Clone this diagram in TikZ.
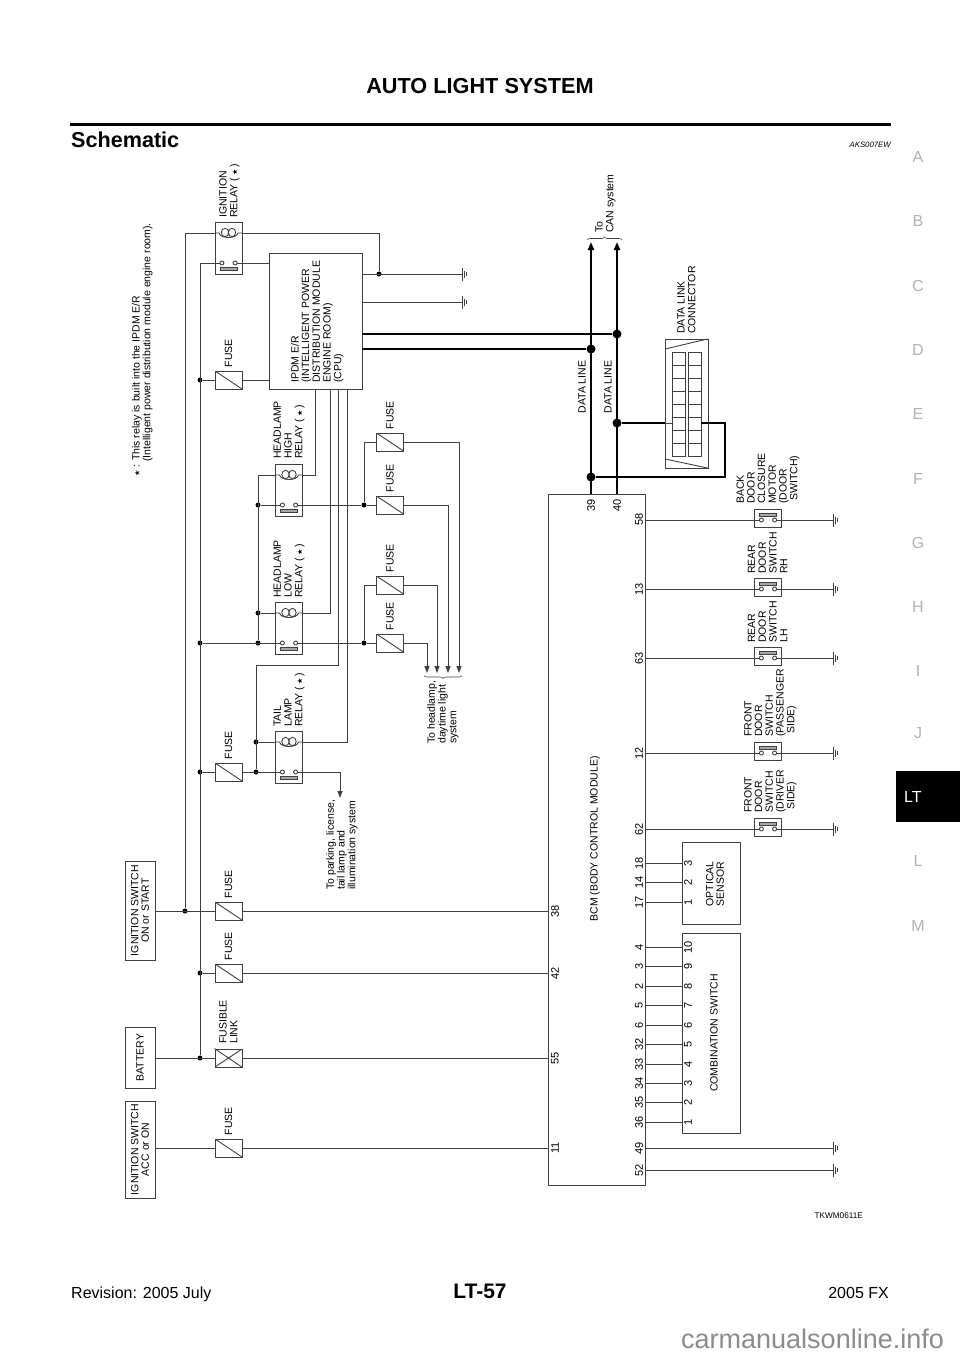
\documentclass[tikz,border=0pt]{standalone}
\usepackage{fontspec}
\setmainfont{Liberation Sans}
\newfontfamily\symfont{DejaVu Sans}
\usetikzlibrary{arrows.meta,decorations.pathreplacing}
\newcommand{\starsym}{{\symfont\fontsize{7}{7}\selectfont ★}}
\newcommand{\rstar}{(\,\starsym\,)}
\tikzset{
  wire/.style={line width=.9pt,black!75},
  dataw/.style={line width=2.2pt,black},
  box/.style={draw=black!75,line width=.9pt,fill=white,inner sep=0pt},
  fusebox/.style={box,minimum width=27pt,minimum height=18pt,
    path picture={\draw[wire] (path picture bounding box.north west)--(path picture bounding box.south east);}},
  linkbox/.style={fusebox,
    path picture={\draw[wire] (path picture bounding box.south west)--(path picture bounding box.north east);}},
  relaybox/.style={box,minimum width=27pt,minimum height=52pt},
  swbox/.style={box,minimum width=27pt,minimum height=18pt},
  rotlabel/.style={rotate=90,anchor=south west,inner sep=0pt,align=left,
    font=\fontsize{10.5}{10.7}\selectfont,execute at end node=\vphantom{(}},
  rotcenter/.style={rotate=90,inner sep=0pt,align=center,font=\fontsize{10.5}{10.7}\selectfont},
  pinlabel/.style={rotcenter,font=\fontsize{11}{11}\selectfont},
  tabletter/.style={inner sep=0pt,black!30,font=\fontsize{16}{16}\selectfont},
  dot/.style={circle,fill=black,inner sep=0pt,minimum size=5pt},
  bigdot/.style={circle,fill=black,inner sep=0pt,minimum size=9pt},
  tip/.style={-{Triangle[length=7pt,width=5pt]}},
  pics/gnd/.style={code={
    \draw[wire] (0,-6.5)--(0,6.5) (2.4,-3.5)--(2.4,3.5) (4.7,-2)--(4.7,2);}},
  pics/coil/.style={code={
    \draw[wire] (-13.5,0)--(-9.5,0) .. controls (-8,6) and (8,6) .. (9.5,0)--(13.5,0);
    \draw[wire] (-3.5,-.5) ellipse (3.7 and 4.2) (3.5,-.5) ellipse (3.7 and 4.2);}},
  pics/contact/.style={code={
    \draw[wire] (-6.6,0) circle (2) (6.6,0) circle (2);}},
}
\begin{document}
\begin{tikzpicture}[x=1pt,y=-1pt]
  \useasboundingbox (0,0) rectangle (960,1358);
  \fill[white] (0,0) rectangle (960,1358);
  % page
  \node[anchor=base,inner sep=0pt,font=\fontsize{21.7}{22}\selectfont\bfseries] (title) at (480,93) {AUTO LIGHT SYSTEM};
  \draw[line width=3pt] (70,124)--(891,124);
  \node[anchor=base west,inner sep=0pt,font=\fontsize{21.6}{22}\selectfont\bfseries] (head) at (71,147) {Schematic};
  \node[anchor=base east,inner sep=0pt,font=\fontsize{7.8}{8}\selectfont\itshape] (ref) at (891,147) {AKS007EW};
  \node[anchor=base west,inner sep=0pt,font=\fontsize{16}{16}\selectfont] (rev) at (71,1298) {Revision: 2005 July};
  \node[anchor=base,inner sep=0pt,font=\fontsize{21}{21}\selectfont\bfseries] (page) at (480,1298) {LT-57};
  \node[anchor=base east,inner sep=0pt,font=\fontsize{16}{16}\selectfont] (model) at (889,1298) {2005 FX};
  \node[anchor=base west,inner sep=0pt,black!45,font=\fontsize{27}{27}\selectfont] (site) at (681,1348) {carmanualsonline.info};
  \node[anchor=base east,inner sep=0pt,font=\fontsize{8.2}{8}\selectfont] (code) at (863,1218) {TKWM0611E};
  \foreach \t/\y in {A/157,B/221,C/286,D/350,E/414,F/479,G/543,H/607,I/671,J/733,L/861,M/926}
    \node[tabletter] (tab\t) at (918,\y) {\t};
  \fill[black] (896,771) rectangle (960,822);
  \node[tabletter,white,anchor=west] (tabLT) at (904,797) {LT};
  % supplies
  \node[box,minimum width=30pt,minimum height=99pt] (ignsw) at (140,910.5) {};
  \node[rotcenter] (ignswl) at (ignsw) {IGNITION SWITCH\\ON or START};
  \node[box,minimum width=30pt,minimum height=61pt] (batt) at (140,1057.5) {};
  \node[rotcenter] (battl) at (batt) {BATTERY};
  \node[box,minimum width=30pt,minimum height=97pt] (accsw) at (140,1149.5) {};
  \node[rotcenter] (accswl) at (accsw) {IGNITION SWITCH\\ACC or ON};
  % modules
  \node[box,minimum width=93pt,minimum height=136pt] (ipdm) at (315.5,321) {};
  \node[rotlabel] (ipdml) at (343.7,383) {IPDM E/R\\(INTELLIGENT POWER\\DISTRIBUTION MODULE\\ENGINE ROOM)\\(CPU)};
  \node[box,minimum width=97pt,minimum height=691pt] (bcm) at (596.5,839.5) {};
  \node[rotcenter] (bcml) at (595,839) {BCM (BODY CONTROL MODULE)};
  \node[box,minimum width=58pt,minimum height=200pt] (comb) at (711,1033) {};
  \node[rotcenter] (combl) at (714,1033) {COMBINATION SWITCH};
  \node[box,minimum width=58pt,minimum height=82pt] (opt) at (711,883) {};
  \node[rotcenter] (optl) at (715,884) {OPTICAL\\SENSOR};
  % fuses
  \foreach \n/\x/\y in {fipdm/228.5/380,ftail/228.5/772,fign/228.5/911,fbat/228.5/973,facc/228.5/1148,
      fha/390/442,fhb/390/505,fla/390/585,flb/390/643}{
    \node[fusebox] (\n) at (\x,\y) {};
    \node[rotcenter] (\n-l) at (\x,\y-27) {FUSE};
  }
  \node[linkbox] (flink) at (228.5,1058) {};
  \draw[wire] (flink.north west)--(flink.south east);
  \node[rotlabel] (flinkl) at (239.7,1044) {FUSIBLE\\LINK};
  % relays
  \foreach \n/\x/\y in {rign/228.5/248,rhigh/289/490,rlow/289/628,rtail/289/757}{
    \node[relaybox] (\n) at (\x,\y) {};
    \pic at (\x,\y-15) {coil};
    \pic at (\x,\y+15) {contact};
    \draw[wire,fill=black!35] (\x-8.5,\y+19.5) rectangle (\x+8.5,\y+22.5);
    \coordinate (\n-cl) at (\x-13.5,\y-15);
    \coordinate (\n-cr) at (\x+13.5,\y-15);
    \coordinate (\n-sl) at (\x-8.6,\y+15);
    \coordinate (\n-sr) at (\x+8.6,\y+15);
  }
  \node[rotlabel] (rignl) at (239.7,218) {IGNITION\\RELAY \rstar};
  \node[rotlabel] (rhighl) at (304.7,459) {HEADLAMP\\HIGH\\RELAY \rstar};
  \node[rotlabel] (rlowl) at (304.7,598) {HEADLAMP\\LOW\\RELAY \rstar};
  \node[rotlabel] (rtaill) at (304.7,727) {TAIL\\LAMP\\RELAY \rstar};
  \node[rotlabel] (note) at (152.7,477) {\starsym{} : This relay is built into the IPDM E/R\\\hspace*{15pt}(Intelligent power distribution module engine room).};
  % junctions
  \foreach \n/\x/\y in {da/185/911,dc/200/380,dd/200/643,de/200/772,df/200/973,dg/200/1058,
      dh/258/505,di/258/613,dj/258/643,dk/256/742,dl/256/772,dm/364/505,dn/364/643,dp/379/274}
    \node[dot] (\n) at (\x,\y) {};
  \coordinate (busa) at (185,233);
  \coordinate (busb) at (200,263);
  \coordinate (gnda) at (462,274);
  \coordinate (gndb) at (462,302);
  \pic at (gnda) {gnd};
  \pic at (gndb) {gnd};
  % power wiring
  \draw[wire] (rign-cl)--(busa)--(da);
  \draw[wire] (rign-sl)--(busb)--(dg);
  \draw[wire] (rign-sr)--(rign-sr -| ipdm.west);
  \draw[wire] (rign-cr)--(rign-cr -| dp)--(dp);
  \draw[wire] (ipdm.east |- dp)--(gnda);
  \draw[wire] (ipdm.east |- gndb)--(gndb);
  \draw[wire] (dc)--(fipdm);
  \draw[wire] (fipdm)--(fipdm -| ipdm.west);
  \draw[wire] (ignsw.east |- da)--(fign);
  \draw[wire] (fign)--(fign -| bcm.west);
  \draw[wire] (df)--(fbat);
  \draw[wire] (fbat)--(fbat -| bcm.west);
  \draw[wire] (batt.east |- flink)--(flink);
  \draw[wire] (flink)--(flink -| bcm.west);
  \draw[wire] (accsw.east |- facc)--(facc);
  \draw[wire] (facc)--(facc -| bcm.west);
  % headlamp relays
  \draw[wire] (rhigh-cl)--(rhigh-cl -| di)--(dj);
  \draw[wire] (dh)--(rhigh-sl);
  \draw[wire] (rlow-cl)--(di);
  \draw[wire] (dd)--(rlow-sl);
  \draw[wire] (rhigh-sr)--(dm);
  \draw[wire] (rlow-sr)--(dn);
  \draw[wire] (dm)--(fhb);
  \draw[wire] (dn)--(flb);
  \draw[wire] (dm)--(dm |- fha)--(fha);
  \draw[wire] (dn)--(dn |- fla)--(fla);
  \draw[wire] (rhigh-cr)--(315,475)--(315,389);
  \draw[wire] (rlow-cr)--(330,613)--(330,389);
  % tail relay
  \draw[wire] (de)--(ftail);
  \draw[wire] (ftail)--(rtail-sl);
  \draw[wire] (dl)--(256,665)--(338,665)--(338,389);
  \draw[wire] (dk)--(rtail-cl);
  \draw[wire] (rtail-cr)--(347,742)--(347,389);
  \coordinate (tailto) at (340,798);
  \draw[wire,tip] (rtail-sr)--(340,772)--(tailto);
  \node[rotlabel] (taill) at (357.7,890) {To parking, license,\\tail lamp and\\illumination system};
  % to headlamp
  \draw[wire,tip] (flb)--(427,643)--(427,673);
  \draw[wire,tip] (fla)--(437,585)--(437,673);
  \draw[wire,tip] (fhb)--(448,505)--(448,673);
  \draw[wire,tip] (fha)--(459,442)--(459,673);
  \draw[black!75,line width=.6pt,decorate,decoration={brace,mirror,amplitude=3pt}] (424,675.5)--(462,675.5);
  \node[rotlabel] (headl) at (458.7,744) {To headlamp,\\daytime light\\system};
  % data lines
  \node[box,minimum width=43pt,minimum height=129pt] (dlc) at (686.5,403.5) {};
  \draw[wire] (665,349)--(707.5,339) (665,459)--(707.5,468);
  \foreach \r in {0,...,7}
    \draw[wire] (672,352+13*\r) rectangle (685,365+13*\r) (688,352+13*\r) rectangle (701,365+13*\r);
  \node[rotlabel] (dlcl) at (697.7,334) {DATA LINK\\CONNECTOR};
  \coordinate (cana) at (591,242);
  \coordinate (canb) at (617,242);
  \node[bigdot] (dq) at (617,334) {};
  \node[bigdot] (dr) at (591,349) {};
  \node[bigdot] (ds) at (617,423) {};
  \node[bigdot] (dt) at (591,477) {};
  \draw[dataw] (ipdm.east |- dq)--(dq);
  \draw[dataw] (ipdm.east |- dr)--(dr);
  \draw[dataw,-{Triangle[length=8pt,width=6pt]}] (591,494)--(cana);
  \draw[dataw,-{Triangle[length=8pt,width=6pt]}] (617,494)--(canb);
  \draw[dataw] (ds)--(ds -| dlc.west);
  \draw[dataw] (701,423)--(725,423)--(725,477)--(dt);
  \draw[wire] (ds -| dlc.west)--(672,423);
  \draw[black!75,line width=.6pt,decorate,decoration={brace,amplitude=3pt}] (587,240)--(622,240);
  \node[rotlabel] (canl) at (615.7,233) {To\\CAN system};
  \node[rotcenter] (dla) at (582,387) {DATA LINE};
  \node[rotcenter] (dlb) at (608,387) {DATA LINE};
  % pins on bcm
  \foreach \p/\x/\y in {39/591/505,40/617/505,38/555/911,42/555/973,55/555/1058,11/555/1148,
      58/639/519.5,13/639/589,63/639/658,12/639/753,62/639/829,
      18/639/863,14/639/882,17/639/902,49/639/1148,52/639/1170}
    \node[pinlabel] (pin\p) at (\x,\y) {\p};
  % door switches
  \foreach \n/\y in {sba/520,srr/589,srl/658,sfp/753,sfd/829}{
    \node[swbox] (\n) at (768,\y-2) {};
    \pic at (768,\y) {contact};
    \draw[wire,fill=black!35] (759.5,\y-6.5) rectangle (776.5,\y-3.5);
    \coordinate (\n-g) at (833,\y);
    \pic at (\n-g) {gnd};
    \draw[wire] (645,\y)--(759.4,\y);
    \draw[wire] (776.6,\y)--(\n-g);
  }
  \node[rotlabel] (sbal) at (799.7,504) {BACK\\DOOR\\CLOSURE\\MOTOR\\(DOOR\\\hspace*{3pt}SWITCH)};
  \node[rotlabel] (srrl) at (789.7,574) {REAR\\DOOR\\SWITCH\\RH};
  \node[rotlabel] (srll) at (789.7,643) {REAR\\DOOR\\SWITCH\\LH};
  \node[rotlabel] (sfpl) at (796.7,737) {FRONT\\DOOR\\SWITCH\\(PASSENGER\\\hspace*{3pt}SIDE)};
  \node[rotlabel] (sfdl) at (796.7,813) {FRONT\\DOOR\\SWITCH\\(DRIVER\\\hspace*{3pt}SIDE)};
  % ground pins
  \foreach \y in {1148,1170}{
    \coordinate (gp\y) at (833,\y);
    \pic at (gp\y) {gnd};
    \draw[wire] (gp\y -| bcm.east)--(gp\y);
  }
  % optical sensor and combination switch
  \foreach \a/\y in {3/863,2/882,1/902}{
    \draw[wire] (bcm.east |- 0,\y)--(opt.west |- 0,\y);
    \node[pinlabel] (opt\a) at (688,\y) {\a};
  }
  \foreach \p/\a/\y in {4/10/947.3,3/9/966.7,2/8/986,5/7/1005.7,6/6/1025,32/5/1044.3,33/4/1064,34/3/1083.3,35/2/1102.7,36/1/1122}{
    \draw[wire] (bcm.east |- 0,\y)--(comb.west |- 0,\y);
    \node[pinlabel] (pinc\p) at (639,\y) {\p};
    \node[pinlabel] (comb\a) at (688,\y) {\a};
  }
\end{tikzpicture}
\end{document}
